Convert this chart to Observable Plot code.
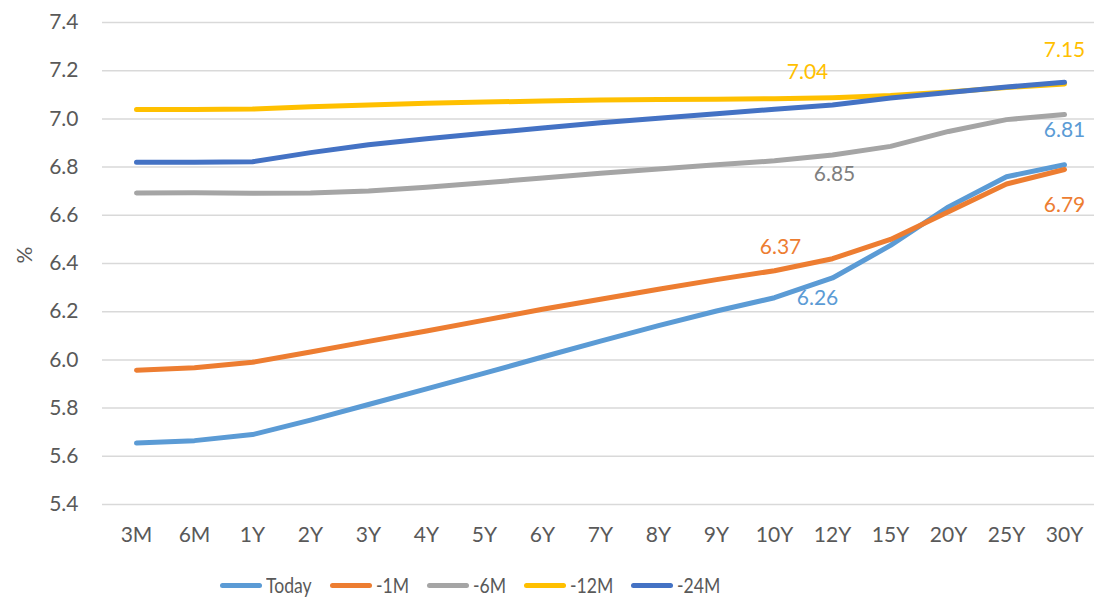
<!DOCTYPE html>
<html>
<head>
<meta charset="utf-8">
<script src="https://cdn.jsdelivr.net/npm/d3@7"></script>
<script src="https://cdn.jsdelivr.net/npm/@observablehq/plot@0.6"></script>
<style>
  html, body { margin: 0; padding: 0; background: #ffffff; overflow: hidden; }
  #chart { position: relative; width: 1094px; height: 599px; }
  #legend { position: absolute; left: 220px; top: 572px; height: 26px; display: flex; align-items: center;
            font-family: Lato, sans-serif; font-size: 22px; line-height: 26px; color: #595959; white-space: nowrap; }
  .item { display: flex; align-items: center; margin-right: 18px; }
  .sw { width: 42px; height: 5px; border-radius: 3px; margin-right: 4px; }
  .tx { display: inline-block; transform: scaleX(0.8); transform-origin: left center; }
</style>
</head>
<body>
<div id="chart"></div>
<script>
const categories = ["3M","6M","1Y","2Y","3Y","4Y","5Y","6Y","7Y","8Y","9Y","10Y","12Y","15Y","20Y","25Y","30Y"];
const seriesNames = ["Today","-1M","-6M","-12M","-24M"];
const seriesColors = ["#5B9BD5","#ED7D31","#A5A5A5","#FFC000","#4472C4"];

const today = [5.655,5.665,5.69,5.75,5.815,5.88,5.945,6.012,6.078,6.142,6.203,6.258,6.34,6.475,6.635,6.76,6.81];
const m1    = [5.957,5.967,5.99,6.033,6.077,6.12,6.165,6.21,6.252,6.293,6.333,6.37,6.42,6.50,6.615,6.73,6.79];
const m6    = [6.693,6.694,6.691,6.693,6.701,6.716,6.735,6.755,6.774,6.792,6.81,6.826,6.85,6.886,6.948,6.997,7.018];
const m12   = [7.039,7.039,7.041,7.05,7.058,7.065,7.07,7.074,7.078,7.08,7.082,7.084,7.088,7.097,7.112,7.13,7.145];
const m24   = [6.82,6.82,6.822,6.86,6.893,6.918,6.94,6.962,6.984,7.003,7.021,7.04,7.058,7.087,7.11,7.132,7.152];

const yTicks = [5.4,5.6,5.8,6.0,6.2,6.4,6.6,6.8,7.0,7.2,7.4];

// data labels: series, category, text
const labelSeries = ["-12M","-12M","Today","-1M","-6M","-1M","Today"];
const labelCats   = ["30Y","10Y","30Y","30Y","12Y","10Y","12Y"];
const labelTexts  = ["7.15","7.04","6.81","6.79","6.85","6.37","6.26"];

const allSeries = [today, m1, m6, m12, m24];
const data = seriesNames.flatMap((s, i) => categories.map((c, j) => ({series: s, cat: c, value: allSeries[i][j]})));
const labelData = labelTexts.map((t, i) => {
  const si = seriesNames.indexOf(labelSeries[i]);
  const ci = categories.indexOf(labelCats[i]);
  return {series: labelSeries[i], cat: labelCats[i], value: allSeries[si][ci], text: t};
});
// styling offsets for label placement (pixels)
const offs = [[0,-34],[33,-26],[0,-34],[0,36],[2,19],[6,-23],[-15,20]];
const labelColor = {"Today":"#5B9BD5","-1M":"#ED7D31","-6M":"#7F7F7F","-12M":"#FFC000","-24M":"#4472C4"};

const marks = [
  Plot.gridY(yTicks, {stroke: "#D9D9D9", strokeOpacity: 1, strokeWidth: 1.5}),
  Plot.axisY(yTicks, {tickSize: 0, tickPadding: 24, tickFormat: d => d.toFixed(1), label: null}),
  Plot.axisX({tickSize: 0, tickPadding: 23, label: null}),
  Plot.text(["%"], {frameAnchor: "left", rotate: -90, dx: -77, fill: "#595959"}),
  Plot.line(data, {x: "cat", y: "value", z: "series", stroke: "series", strokeWidth: 5, strokeLinecap: "round", strokeLinejoin: "round"}),
];
labelData.forEach((d, i) => {
  marks.push(Plot.text([d], {x: "cat", y: "value", text: "text", dx: offs[i][0], dy: offs[i][1], fill: labelColor[d.series]}));
});

const plot = Plot.plot({
  width: 1094,
  height: 565,
  marginLeft: 102,
  marginRight: -4,
  marginTop: 22,
  marginBottom: 61,
  style: {fontFamily: "Lato, sans-serif", fontSize: "21px", color: "#595959", background: "transparent", overflow: "visible"},
  x: {type: "point", domain: categories, padding: 0.5},
  y: {domain: [5.4, 7.4]},
  color: {domain: seriesNames, range: seriesColors},
  marks
});
const chart = document.getElementById("chart");
chart.appendChild(plot);

const legend = document.createElement("div");
legend.id = "legend";
chart.appendChild(legend);
seriesNames.forEach((s, i) => {
  const it = document.createElement("div");
  it.className = "item";
  const sw = document.createElement("div");
  sw.className = "sw";
  sw.style.background = seriesColors[i];
  const tx = document.createElement("span");
  tx.className = "tx";
  tx.textContent = s;
  it.appendChild(sw); it.appendChild(tx);
  legend.appendChild(it);
  tx.style.marginRight = (-0.2 * tx.offsetWidth) + "px";
});
</script>
</body>
</html>
